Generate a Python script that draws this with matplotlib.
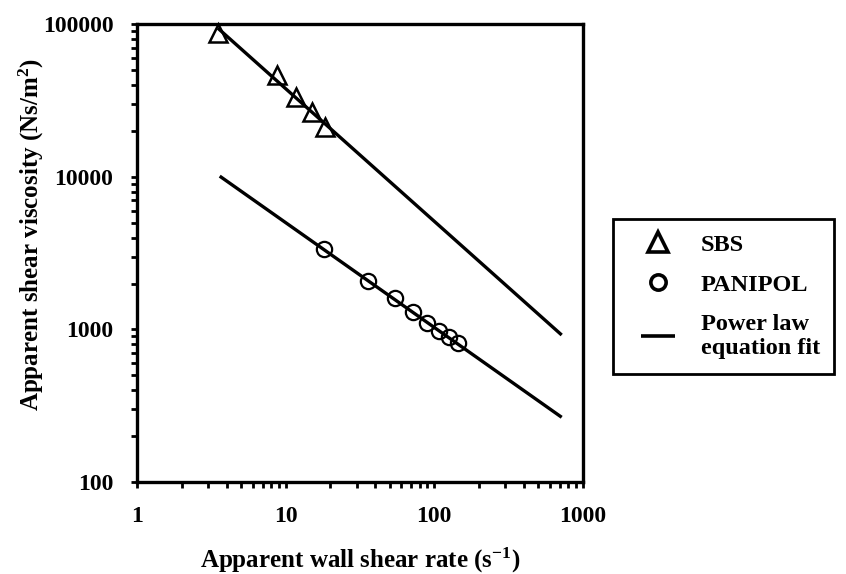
import matplotlib
matplotlib.use("Agg")
import matplotlib.pyplot as plt
from matplotlib.lines import Line2D
from matplotlib.ticker import LogLocator, NullFormatter, FixedLocator, FixedFormatter

plt.rcParams['font.family'] = ['Liberation Serif', 'DejaVu Serif']
plt.rcParams['font.weight'] = 'bold'
plt.rcParams['mathtext.fontset'] = 'custom'
plt.rcParams['mathtext.rm'] = 'Liberation Serif:bold'
plt.rcParams['mathtext.it'] = 'Liberation Serif:bold'
plt.rcParams['mathtext.bf'] = 'Liberation Serif:bold'

# Data
sbs_rate = [3.5, 8.8, 11.8, 15.0, 18.5]
sbs_visc = [87000, 46500, 33300, 26500, 21100]
pan_rate = [18.1, 35.9, 54.3, 72.1, 88.8, 107.9, 126.0, 144.8]
pan_visc = [3350, 2080, 1600, 1300, 1105, 975, 888, 818]
sbs_fit_rate = [3.5, 720]
sbs_fit_visc = [94000, 920]
pan_fit_rate = [3.6, 720]
pan_fit_visc = [10100, 266]
x_ticks = [1, 10, 100, 1000]
x_ticklabels = ['1', '10', '100', '1000']
y_ticks = [100, 1000, 10000, 100000]
y_ticklabels = ['100', '1000', '10000', '100000']

fig = plt.figure(figsize=(8.46, 5.74), dpi=100)
ax = fig.add_axes([0.162, 0.160, 0.527, 0.798])

ax.plot(sbs_fit_rate, sbs_fit_visc, color='black', lw=2.4, solid_capstyle='butt', zorder=2)
ax.plot(pan_fit_rate, pan_fit_visc, color='black', lw=2.4, solid_capstyle='butt', zorder=2)
ax.plot(sbs_rate, sbs_visc, linestyle='none', marker='^', markersize=12.5, markerfacecolor='none',
        markeredgecolor='black', markeredgewidth=1.8, zorder=3, clip_on=False)
ax.plot(pan_rate, pan_visc, linestyle='none', marker='o', markersize=11, markerfacecolor='none',
        markeredgecolor='black', markeredgewidth=1.6, zorder=3)

ax.set_xscale('log')
ax.set_yscale('log')
ax.set_xlim(1, 1000)
ax.set_ylim(100, 100000)

ax.xaxis.set_major_locator(FixedLocator(x_ticks))
ax.xaxis.set_major_formatter(FixedFormatter(x_ticklabels))
ax.yaxis.set_major_locator(FixedLocator(y_ticks))
ax.yaxis.set_major_formatter(FixedFormatter(y_ticklabels))
ax.xaxis.set_minor_locator(LogLocator(base=10, subs=range(2, 10)))
ax.yaxis.set_minor_locator(LogLocator(base=10, subs=range(2, 10)))
ax.xaxis.set_minor_formatter(NullFormatter())
ax.yaxis.set_minor_formatter(NullFormatter())

for s in ax.spines.values():
    s.set_linewidth(2.4)
ax.tick_params(which='both', direction='out', length=4, width=2, top=False, right=False)
ax.tick_params(axis='x', which='major', labelsize=17, pad=13)
ax.tick_params(axis='y', which='major', labelsize=17, pad=13)

ax.set_xlabel('Apparent wall shear rate (s$^{-1}$)', fontsize=18, fontweight='bold')
ax.set_ylabel('Apparent shear viscosity (Ns/m$^{2}$)', fontsize=18, fontweight='bold')
ax.xaxis.set_label_coords(0.5, -0.14)
ax.yaxis.set_label_coords(-0.205, 0.54)

handles = [
    Line2D([], [], linestyle='none', marker='^', markersize=14, markerfacecolor='none',
           markeredgecolor='black', markeredgewidth=2.6),
    Line2D([], [], linestyle='none', marker='o', markersize=11, markerfacecolor='none',
           markeredgecolor='black', markeredgewidth=2.6),
    Line2D([], [], linestyle='none', marker='_', markersize=24, markeredgewidth=2.6,
           markeredgecolor='black'),
]
labels = ['SBS', 'PANIPOL', 'Power law\nequation fit']
leg = fig.legend(handles, labels, loc='upper left', bbox_to_anchor=(0.7246, 0.6185),
                 frameon=True, fancybox=False, edgecolor='black', prop={'size': 17.5, 'weight': 'bold'},
                 handlelength=2.5, handletextpad=0.5, borderpad=0.6, labelspacing=0.75,
                 borderaxespad=0)
leg.get_frame().set_linewidth(2)
leg.get_frame().set_alpha(1)

fig.savefig('out.png', dpi=100)
